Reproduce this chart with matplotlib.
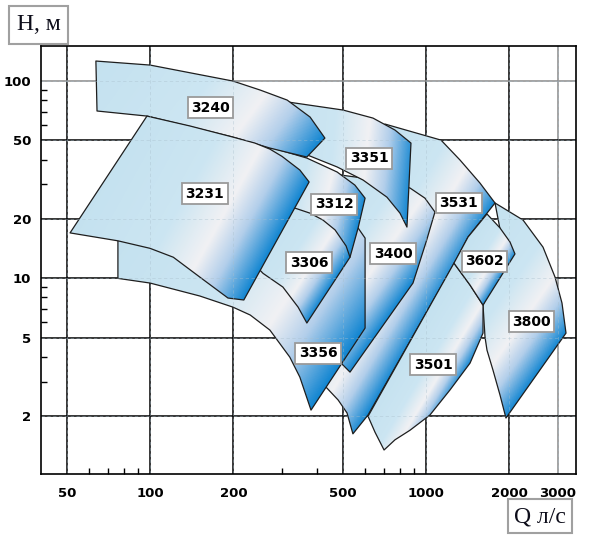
import numpy as np
import matplotlib
matplotlib.use("Agg")
import matplotlib.pyplot as plt
from matplotlib.patches import Polygon, Rectangle
from matplotlib.colors import LinearSegmentedColormap
from matplotlib.ticker import FixedLocator, FixedFormatter, NullFormatter

# ---------------- data (Q in l/s, H in m) ----------------
q3800 = [1775, 2243, 2650, 2930, 3105, 3211, 1945, 1851, 1745, 1660, 1633, 1606, 1702, 1930]
h3800 = [24.1, 19.75, 14.4, 10.15, 7.50, 5.28, 1.96, 2.56, 3.43, 4.33, 5.04, 7.32, 8.73, 13.1]

q3531 = [708, 1131, 1325, 1566, 1775, 1660, 1417, 1271, 615, 542, 516, 479, 426, 575, 585, 680, 803]
h3531 = [60.55, 50.2, 39.8, 30.4, 24.1, 21.4, 16.2, 12.1, 2.03, 1.63, 2.08, 2.42, 2.88, 5.47, 15.6, 24.9, 44.7]

q3501 = [1260, 1441, 1606, 1606, 1441, 1219, 1031, 873, 770, 703, 652, 615]
h3501 = [11.95, 9.25, 7.32, 5.28, 3.72, 2.72, 2.03, 1.70, 1.52, 1.35, 1.66, 2.00]

q3602 = [1660, 1851, 2011, 2097, 1606, 1441, 1260, 1417]
h3602 = [21.2, 18.0, 15.3, 13.3, 7.32, 9.25, 11.95, 16.2]

q3400 = [459, 625, 770, 873, 989, 1075, 1003, 895, 529, 479, 529, 538]
h3400 = [33.8, 31.9, 30.1, 28.7, 25.5, 21.7, 15.6, 9.47, 3.35, 3.85, 6.15, 15.6]

q3351 = [315, 499, 641, 770, 880, 851, 803, 720, 590, 475, 348, 260, 271]
h3351 = [78.3, 71.3, 64.9, 56.45, 48.5, 18.2, 21.4, 25.8, 31.5, 36.7, 43.7, 48.5, 71.3]

q3356 = [76.2, 76.2, 99.6, 151, 199, 230, 271, 320, 348, 382, 600, 600, 566, 448, 295, 99.6]
h3356 = [15.5, 10.0, 9.47, 8.14, 7.15, 6.52, 5.47, 3.99, 3.16, 2.15, 5.60, 16.0, 18.0, 21.7, 24.9, 17.6]

q3312 = [239, 278, 369, 475, 551, 600, 566, 529, 467, 379, 307, 254]
h3312 = [44.7, 45.75, 40.7, 34.6, 29.7, 25.5, 18.0, 12.8, 15.6, 19.3, 20.9, 24.9]

q3306 = [295, 334, 379, 422, 467, 512, 529, 369, 343, 302, 256, 239]
h3306 = [24.1, 22.7, 21.4, 19.75, 17.6, 14.6, 12.8, 5.94, 7.15, 9.04, 10.6, 11.7]

q3240 = [63.4, 99.6, 199, 250, 313, 379, 429, 369, 320, 271, 199, 97.1, 64.0]
h3240 = [126.3, 120.5, 100, 90.0, 80.1, 65.7, 51.4, 41.2, 43.2, 45.75, 52.0, 66.45, 70.5]

q3231 = [97.1, 139, 199, 239, 271, 300, 348, 376, 218, 191, 151, 121, 99.6, 76.2, 51.1]
h3231 = [66.45, 59.2, 52.0, 48.5, 45.2, 41.5, 35.4, 30.8, 7.77, 7.95, 10.15, 12.8, 14.2, 15.5, 17.0]

pump_names = ["3800", "3531", "3501", "3602", "3400", "3351",
              "3356", "3312", "3306", "3240", "3231"]
pump_q = [q3800, q3531, q3501, q3602, q3400, q3351, q3356, q3312, q3306, q3240, q3231]
pump_h = [h3800, h3531, h3501, h3602, h3400, h3351, h3356, h3312, h3306, h3240, h3231]

label_q = [2407, 1314, 1058, 1626, 757.5, 620, 405, 463, 375.6, 165, 157.6]
label_h = [6.04, 24.1, 3.66, 12.2, 13.3, 40.7, 4.18, 23.8, 12.0, 73.4, 26.9]

x_ticks = [50, 100, 200, 500, 1000, 2000, 3000]
x_tick_labels = ["50", "100", "200", "500", "1000", "2000", "3000"]
y_ticks = [2, 5, 10, 20, 50, 100]
y_tick_labels = ["2", "5", "10", "20", "50", "100"]
x_minor = [60, 70, 80, 90, 300, 400, 600, 700, 800, 900]
y_minor = [3, 4, 6, 7, 8, 9, 30, 40, 60, 70, 80, 90]

# gradient direction per shape (screen x right, y down) - style only
grad_dir = {"3800": (1, 0.7), "3531": (1, 0.6), "3501": (1, 0.6), "3602": (1, 0.63),
            "3400": (1, 0.7), "3351": (1, 0.1), "3356": (1, 0.66), "3312": (1, 0.25),
            "3306": (1, 0.65), "3240": (1, 0.75), "3231": (1, 0.55)}

# ---------------- figure ----------------
fig = plt.figure(figsize=(5.91, 5.40), dpi=100)
ax = fig.add_axes([0.0689, 0.1222, 0.9057, 0.7926])
ax.set_xscale("log")
ax.set_yscale("log")
XLIM = (40, 3490)
YLIM = (1.02, 150.5)
ax.set_xlim(*XLIM)
ax.set_ylim(*YLIM)
ax.set_autoscale_on(False)

# grid lines
grid_x_col = {3000: "#8a8a8a"}
for xv in x_ticks:
    ax.axvline(xv, color=grid_x_col.get(xv, "black"), lw=1.1, zorder=1)
grid_y_col = {100: "#8a8a8a"}
for yv in y_ticks:
    ax.axhline(yv, color=grid_y_col.get(yv, "black"), lw=1.1, zorder=1)

cmap = LinearSegmentedColormap.from_list(
    "pump",
    [(0.0, (0.77, 0.885, 0.94)),
     (0.45, (0.80, 0.90, 0.95)),
     (0.68, (0.945, 0.945, 0.955)),
     (0.82, (0.70, 0.81, 0.92)),
     (1.0, (0.06, 0.52, 0.82))])

bb = ax.bbox
W = int(round(bb.width))
H = int(round(bb.height))
XX, YY = np.meshgrid(bb.x0 + (np.arange(W) + 0.5) * bb.width / W,
                     bb.y0 + (np.arange(H) + 0.5) * bb.height / H)

for i, (name, qs, hs) in enumerate(zip(pump_names, pump_q, pump_h)):
    z = 2 + i
    pts = np.column_stack([qs, hs])
    disp = ax.transData.transform(pts)
    dx, dy = grad_dir[name]
    d = np.array([dx, -dy], dtype=float)
    d /= np.linalg.norm(d)
    tv = disp @ d
    t = (XX * d[0] + YY * d[1] - tv.min()) / (tv.max() - tv.min())
    rgba = cmap(np.clip(t, 0, 1))
    poly = Polygon(pts, closed=True, facecolor="none", edgecolor="#1e1e1e",
                   lw=0.9, zorder=z + 0.5, joinstyle="round")
    ax.add_patch(poly)
    im = ax.imshow(rgba, extent=(0, 1, 0, 1), transform=ax.transAxes,
                   origin="lower", aspect="auto", interpolation="bilinear", zorder=z)
    im.set_clip_path(poly)

# faint dashed grid visible through the shapes
for xv in x_ticks:
    ax.axvline(xv, color="#a9bfcc", lw=0.6, ls=(0, (4, 3)), alpha=0.45, zorder=40)
for yv in y_ticks:
    ax.axhline(yv, color="#a9bfcc", lw=0.6, ls=(0, (4, 3)), alpha=0.45, zorder=40)

ax.set_xlim(*XLIM)
ax.set_ylim(*YLIM)

# labels
for name, lq, lh in zip(pump_names, label_q, label_h):
    ax.text(lq, lh, name, ha="center", va="center", fontsize=10, fontweight="bold",
            family="DejaVu Sans", color="black", zorder=60,
            bbox=dict(boxstyle="square,pad=0.25", fc="white", ec="#9a9a9a", lw=1.3))

# ticks
ax.xaxis.set_major_locator(FixedLocator(x_ticks))
ax.xaxis.set_major_formatter(FixedFormatter(x_tick_labels))
ax.xaxis.set_minor_locator(FixedLocator(x_minor))
ax.xaxis.set_minor_formatter(NullFormatter())
ax.yaxis.set_major_locator(FixedLocator(y_ticks))
ax.yaxis.set_major_formatter(FixedFormatter(y_tick_labels))
ax.yaxis.set_minor_locator(FixedLocator(y_minor))
ax.yaxis.set_minor_formatter(NullFormatter())
ax.tick_params(which="major", length=0, labelsize=9.5)
ax.tick_params(axis="x", which="major", pad=9)
ax.tick_params(axis="y", which="major", pad=7)
ax.tick_params(which="minor", direction="in", length=4, width=1, color="black")
for lab in ax.get_xticklabels() + ax.get_yticklabels():
    lab.set_fontweight("semibold")

for sp in ax.spines.values():
    sp.set_color("black")
    sp.set_linewidth(1.2)
    sp.set_zorder(70)

# axis title boxes
FW, FH = 591.0, 540.0
fig.patches.append(Rectangle((9 / FW, 1 - 44 / FH), 59 / FW, 38 / FH,
                             transform=fig.transFigure, fc="white", ec="#a0a0a0", lw=1.5))
fig.text(38.5 / FW, 1 - 25 / FH, "H, м", ha="center", va="center", fontsize=17,
         family="Liberation Serif", fontweight="normal", color="#0d0d1a")
fig.patches.append(Rectangle((507.7 / FW, 1 - 533.3 / FH), 64 / FW, 34 / FH,
                             transform=fig.transFigure, fc="white", ec="#a0a0a0", lw=1.5))
fig.text(539.7 / FW, 1 - 516.5 / FH, "Q л/с", ha="center", va="center", fontsize=17,
         family="Liberation Serif", fontweight="normal", color="#0d0d1a")

fig.savefig("out.png", dpi=100)
